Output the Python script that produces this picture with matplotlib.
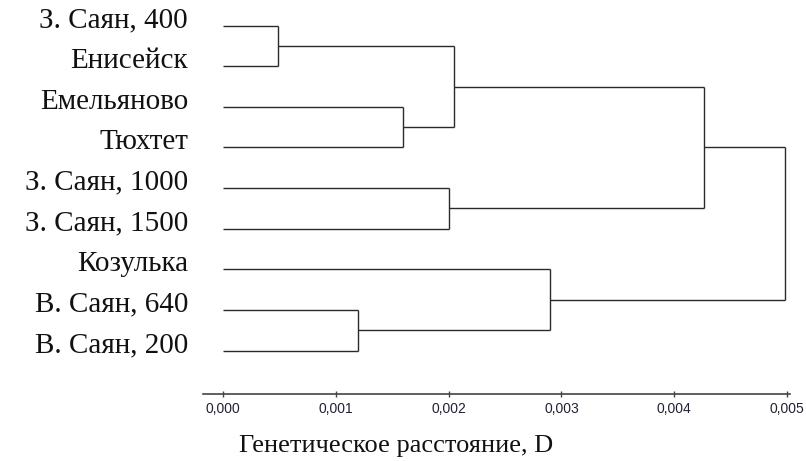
import matplotlib
matplotlib.use('Agg')
import matplotlib.pyplot as plt
import matplotlib.ticker as mtick
from matplotlib.transforms import blended_transform_factory

# Листья дендрограммы (сверху вниз)
leaves = ['З. Саян, 400', 'Енисейск', 'Емельяново', 'Тюхтет',
          'З. Саян, 1000', 'З. Саян, 1500', 'Козулька',
          'В. Саян, 640', 'В. Саян, 200']

# Объединения: (левый узел, правый узел, расстояние); узлы >= 9 - предыдущие объединения
merge_left = [0, 2, 9, 4, 11, 7, 6, 13]
merge_right = [1, 3, 10, 5, 12, 8, 14, 15]
merge_height = [0.00049, 0.00160, 0.00205, 0.00200, 0.00426, 0.00120, 0.00290, 0.00498]

xticks = [0.000, 0.001, 0.002, 0.003, 0.004, 0.005]

W, H = 806, 461
fig = plt.figure(figsize=(W / 100, H / 100), dpi=100)
ax = fig.add_axes([203 / W, (H - 394) / H, 587 / W, 394 / H])

line_kw = dict(color='#2a2a2a', lw=1.0, solid_capstyle='butt')

n = len(leaves)
pos_y = {i: float(i) for i in range(n)}
pos_x = {i: 0.0 for i in range(n)}
for k, (a, b, h) in enumerate(zip(merge_left, merge_right, merge_height)):
    node = n + k
    ya, yb = pos_y[a], pos_y[b]
    ax.plot([pos_x[a], h], [ya, ya], **line_kw)
    ax.plot([pos_x[b], h], [yb, yb], **line_kw)
    ax.plot([h, h], [ya, yb], **line_kw)
    pos_y[node] = (ya + yb) / 2
    pos_x[node] = h

px = 112.8 / 0.001
ax.set_xlim((203 - 223) / px, (790 - 223) / px)
ax.set_ylim((394 - 25.7) / 40.6, -25.7 / 40.6)

for s in ['top', 'right', 'left']:
    ax.spines[s].set_visible(False)
ax.spines['bottom'].set_color('#444444')
ax.spines['bottom'].set_linewidth(1.2)

ax.set_xticks(xticks)
ax.xaxis.set_major_formatter(mtick.FuncFormatter(lambda x, _: f'{x:.3f}'.replace('.', ',')))
ax.tick_params(axis='x', direction='inout', length=5, width=1, color='#444444',
               labelsize=10, labelcolor='#222233', pad=3.5)
for lab in ax.get_xticklabels():
    lab.set_family('Liberation Sans')
ax.set_yticks([])

# подписи листьев: базовая линия чуть ниже ветви
tr = blended_transform_factory(fig.transFigure, ax.transData)
for i, name in enumerate(leaves):
    ax.text(188 / W, i + 0.04, name, transform=tr, ha='right', va='baseline',
            family='Liberation Serif', fontsize=21, color='#111111', clip_on=False)

fig.text(396 / W, 1 - 452 / H, 'Генетическое расстояние, D', family='Liberation Serif',
         fontsize=19, ha='center', va='baseline', color='#111111')

fig.savefig('out.png', dpi=100)
